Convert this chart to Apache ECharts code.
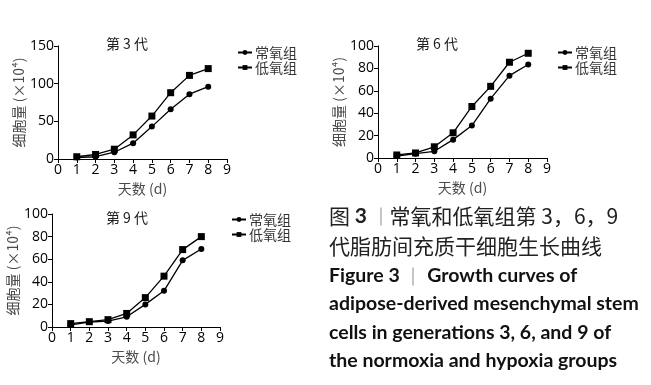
<!DOCTYPE html>
<html lang="zh">
<head>
  <meta charset="UTF-8">
  <title>生长曲线</title>
  <script src="https://cdn.jsdelivr.net/npm/echarts@6/dist/echarts.min.js"></script>
  <style>
    body { margin: 0; background: #fff; }
  </style>
</head>
<body>
  <div id="main" style="width: 651px;height:385px"></div>
  <script>
    // 天数
    var days = [1, 2, 3, 4, 5, 6, 7, 8]
    // 第3代
    var p3Normal = [2, 3, 9, 21, 43, 66, 86, 96]
    var p3Hypoxia = [3, 6, 13, 32, 57, 88, 111, 120]
    // 第6代
    var p6Normal = [1.8, 3.9, 6, 16.4, 29, 53, 73.5, 83.5]
    var p6Hypoxia = [2.7, 4.5, 10, 22.5, 46, 64, 85.5, 93.5]
    // 第9代
    var p9Normal = [1.8, 4.4, 5.3, 9, 20, 32, 59, 69]
    var p9Hypoxia = [3, 4.7, 6.5, 12, 26, 45, 68.5, 80]

    var titles = ['第 3 代', '第 6 代', '第 9 代']
    var yMax = [150, 100, 100]
    var yInterval = [50, 20, 20]

    var mCharts = echarts.init(document.getElementById('main'))

    var grids = [
      { left: 58, top: 46, width: 169, height: 113 },
      { left: 378, top: 46, width: 169, height: 112 },
      { left: 52, top: 214, width: 168, height: 113 }
    ]
    var legendPos = [
      { left: 237, top: 45 },
      { left: 557, top: 45 },
      { left: 231, top: 212 }
    ]
    var titlePos = [
      { left: 122, top: 32 },
      { left: 432, top: 32 },
      { left: 122, top: 206 }
    ]
    var seriesData = [
      [p3Normal, p3Hypoxia],
      [p6Normal, p6Hypoxia],
      [p9Normal, p9Hypoxia]
    ]

    var axisLine = { show: true, lineStyle: { color: '#000', width: 1 } }
    var axisTick = { show: true, length: 4, lineStyle: { color: '#000' } }
    var tickFont = { color: '#000', fontSize: 14, fontFamily: 'Open Sans', margin: 4 }
    var nameFont = { color: '#4a4a4a', fontSize: 14, fontFamily: 'Noto Sans CJK SC' }

    var xAxis = [], yAxis = [], series = [], legend = [], title = []
    for (var i = 0; i < 3; i++) {
      xAxis.push({
        type: 'value', gridIndex: i, min: 0, max: 9, interval: 1,
        name: '天数 (d)', nameLocation: 'middle', nameGap: 23, nameTextStyle: nameFont,
        axisLine: axisLine, axisTick: axisTick, splitLine: { show: false },
        axisLabel: tickFont
      })
      yAxis.push({
        type: 'value', gridIndex: i, min: 0, max: yMax[i], interval: yInterval[i],
        name: '细胞量 (×10⁴)', nameLocation: 'middle', nameGap: 30, nameTextStyle: nameFont,
        axisLine: axisLine, axisTick: axisTick, splitLine: { show: false },
        axisLabel: tickFont
      })
      var normal = seriesData[i][0].map(function (v, k) { return [days[k], v] })
      var hypoxia = seriesData[i][1].map(function (v, k) { return [days[k], v] })
      series.push({
        name: '常氧组', type: 'line', xAxisIndex: i, yAxisIndex: i, data: normal,
        symbol: 'circle', symbolSize: 6,
        lineStyle: { color: '#000', width: 1.3 }, itemStyle: { color: '#000' }
      })
      series.push({
        name: '低氧组', type: 'line', xAxisIndex: i, yAxisIndex: i, data: hypoxia,
        symbol: 'rect', symbolSize: 7,
        lineStyle: { color: '#000', width: 1.3 }, itemStyle: { color: '#000' }
      })
      legend.push({
        left: legendPos[i].left, top: legendPos[i].top, orient: 'vertical', padding: 0,
        data: ['常氧组', '低氧组'], itemWidth: 14, itemHeight: 6, itemGap: 0,
        textStyle: { color: '#333', fontSize: 14, lineHeight: 15, fontFamily: 'Noto Sans CJK SC', padding: [0, 0, 0, -2] },
        selectedMode: false
      })
      title.push({
        text: titles[i], left: titlePos[i].left, top: titlePos[i].top, textAlign: 'center',
        textStyle: { color: '#222', fontSize: 14, fontWeight: 'normal', fontFamily: 'Noto Sans CJK SC' }
      })
    }

    // 图注
    var capCn = { fontSize: 21, fontFamily: 'Noto Sans CJK SC', fill: '#222' }
    var capEn = { fontSize: 19.5, fontFamily: 'Lato', fontWeight: 'bold', fill: '#111' }
    var enLines = [
      'adipose-derived mesenchymal stem',
      'cells in generations 3, 6, and 9 of',
      'the normoxia and hypoxia groups'
    ]
    var graphic = [
      {
        type: 'text', left: 329, top: 206,
        style: {
          text: '图 {b|3} {s|｜}常氧和低氧组第 3，6，9', font: '21px "Noto Sans CJK SC"', fill: '#222',
          rich: {
            b: { fontWeight: 'bold', fontSize: 21, fontFamily: 'Lato' },
            s: { fill: '#999', fontSize: 18 }
          }
        }
      },
      { type: 'text', left: 329, top: 236, style: Object.assign({ text: '代脂肪间充质干细胞生长曲线' }, capCn) },
      {
        type: 'text', left: 329, top: 266,
        style: Object.assign({ text: 'Figure 3 {s|｜} Growth curves of', rich: { s: { fill: '#999', fontWeight: 'normal', fontSize: 18 } } }, capEn)
      }
    ]
    enLines.forEach(function (t, k) {
      graphic.push({ type: 'text', left: 329, top: 294 + k * 28.5, style: Object.assign({ text: t }, capEn) })
    })

    var option = {
      animation: false,
      title: title,
      legend: legend,
      grid: grids,
      xAxis: xAxis,
      yAxis: yAxis,
      series: series,
      graphic: graphic
    }
    mCharts.setOption(option)
  </script>
</body>
</html>
